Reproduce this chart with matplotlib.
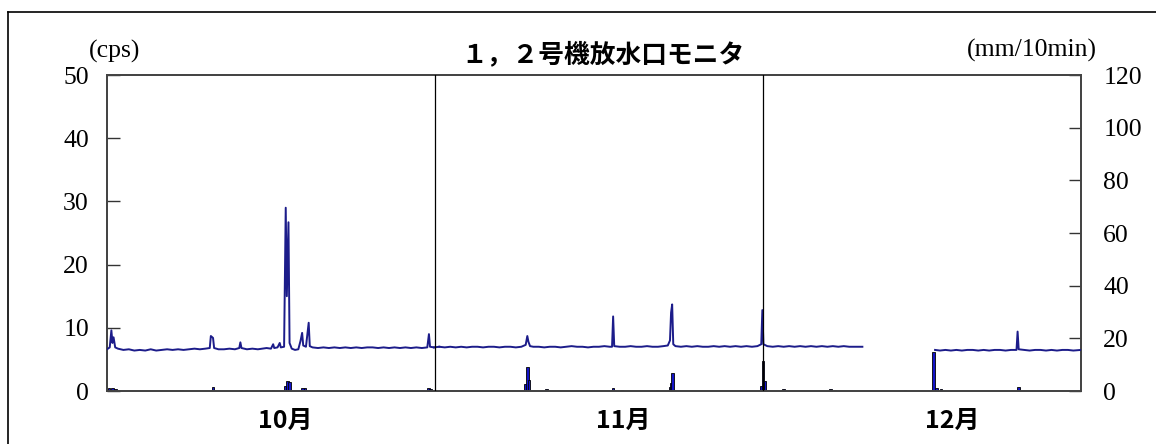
import matplotlib
matplotlib.use("Agg")
import matplotlib.pyplot as plt
import matplotlib.transforms as mtransforms
from matplotlib.lines import Line2D
import numpy as np

# ---------------- data ----------------
title = "１，２号機放水口モニタ"
month_labels = ["10月", "11月", "12月"]
month_label_pos = [16.3, 47.2, 77.3]     # day index of label centre
month_bounds = [30.0, 60.0]              # month separator lines (day index)
x_end = 89.1

oct_days = [0.0, 0.25, 0.4, 0.5, 0.6, 0.75, 1.0, 1.5, 2.0, 2.5, 3.0, 3.5, 4.0, 4.5, 5.0, 5.5,
            6.0, 6.5, 7.0, 7.5, 8.0, 8.5, 9.0, 9.4, 9.5, 9.7, 9.8, 10.2, 10.7, 11.2, 11.7, 12.1,
            12.2, 12.3, 12.8, 13.3, 13.8, 14.2, 14.6, 15.0, 15.2, 15.3, 15.6, 15.8, 15.9, 16.2,
            16.35, 16.45, 16.6, 16.7, 16.9, 17.2, 17.5, 17.7, 17.85, 17.95, 18.2, 18.45, 18.55,
            18.8, 19.3, 19.8, 20.3, 20.8, 21.3, 21.8, 22.3, 22.8, 23.3, 23.8, 24.3, 24.8, 25.3,
            25.8, 26.3, 26.8, 27.3, 27.8, 28.3, 28.8, 29.3, 29.45, 29.55, 29.9]
oct_cps = [6.6, 6.9, 9.6, 7.6, 8.5, 6.9, 6.7, 6.5, 6.6, 6.4, 6.5, 6.4, 6.6, 6.4, 6.5, 6.6,
           6.5, 6.6, 6.5, 6.6, 6.7, 6.6, 6.7, 6.8, 8.7, 8.4, 6.8, 6.6, 6.6, 6.7, 6.6, 6.8,
           7.7, 6.8, 6.6, 6.7, 6.6, 6.7, 6.8, 6.7, 7.4, 6.8, 6.9, 7.6, 6.9, 7.0,
           29.0, 15.0, 26.7, 7.6, 6.7, 6.5, 6.6, 7.9, 9.2, 7.2, 7.0, 10.8, 7.1,
           6.9, 6.8, 6.9, 6.8, 6.9, 6.8, 6.9, 6.8, 6.9, 6.8, 6.9, 6.9, 6.8, 6.9,
           6.8, 6.9, 6.8, 6.9, 6.8, 6.9, 6.8, 6.9, 9.0, 7.0, 6.9]

nov_days = [30.4, 30.9, 31.4, 31.9, 32.4, 32.9, 33.4, 33.9, 34.4, 34.9, 35.4, 35.9, 36.4, 36.9,
            37.4, 37.9, 38.3, 38.45, 38.55, 38.7, 39.0, 39.5, 40.0, 40.5, 41.0, 41.5, 42.0, 42.5,
            43.0, 43.5, 44.0, 44.5, 45.0, 45.5, 46.0, 46.2, 46.3, 46.4, 46.9, 47.4, 47.9, 48.4,
            48.9, 49.4, 49.9, 50.4, 50.9, 51.3, 51.5, 51.6, 51.7, 51.8, 52.0, 52.5, 53.0, 53.5,
            54.0, 54.5, 55.0, 55.5, 56.0, 56.5, 57.0, 57.5, 58.0, 58.5, 59.0, 59.5, 59.85, 59.95,
            60.05, 60.4, 60.9, 61.4, 61.9, 62.4, 62.9, 63.4, 63.9, 64.4, 64.9, 65.4, 65.9, 66.4,
            66.9, 67.4, 67.9, 68.4, 69.1]
nov_cps = [7.0, 6.9, 7.0, 6.9, 7.0, 6.9, 7.0, 7.0, 6.9, 7.0, 7.0, 6.9, 7.0, 7.0,
           6.9, 7.0, 7.3, 8.7, 7.8, 7.1, 7.0, 7.0, 6.9, 7.0, 7.0, 6.9, 7.0, 7.1,
           7.0, 7.0, 6.9, 7.0, 7.0, 7.1, 7.0, 7.0, 11.8, 7.1, 7.0, 7.0, 7.1, 7.0,
           7.0, 7.1, 7.0, 7.0, 7.1, 7.2, 8.0, 12.4, 13.7, 7.4, 7.1, 7.0, 7.1, 7.0,
           7.1, 7.0, 7.0, 7.1, 7.0, 7.1, 7.0, 7.1, 7.0, 7.1, 7.0, 7.1, 7.4, 12.8,
           7.4, 7.1, 7.0, 7.1, 7.0, 7.1, 7.0, 7.1, 7.0, 7.1, 7.0, 7.1, 7.0, 7.1,
           7.0, 7.1, 7.0, 7.0, 7.0]

dec_days = [75.75, 76.2, 76.7, 77.2, 77.7, 78.2, 78.7, 79.2, 79.7, 80.2, 80.7, 81.2, 81.7, 82.2,
            82.7, 83.2, 83.3, 83.4, 83.9, 84.4, 84.9, 85.4, 85.9, 86.4, 86.9, 87.4, 87.9, 88.4, 89.1]
dec_cps = [6.5, 6.4, 6.5, 6.4, 6.5, 6.4, 6.5, 6.5, 6.4, 6.5, 6.4, 6.5, 6.5, 6.4,
           6.5, 6.5, 9.4, 6.6, 6.5, 6.4, 6.5, 6.5, 6.4, 6.5, 6.4, 6.5, 6.5, 6.4, 6.5]

rain_days = [0.2, 0.5, 0.8, 6.8, 9.7, 12.2, 12.7, 15.2, 16.3, 16.5, 16.7, 17.9, 18.1, 19.3,
             23.8, 24.2, 24.6, 25.0, 29.4, 29.6, 36.6, 38.3, 38.45, 38.6, 40.2, 46.3, 47.1,
             50.3, 51.5, 51.6, 51.75, 59.9, 60.0, 60.2, 61.9, 66.2, 66.6, 73.0, 75.6, 75.9,
             76.3, 83.4]
rain_mm = [1.0, 1.2, 0.8, 0.4, 1.5, 0.5, 0.4, 0.5, 2.0, 3.9, 3.5, 1.2, 1.0, 0.4,
           0.5, 0.5, 0.5, 0.5, 1.2, 0.8, 0.5, 2.5, 9.2, 4.0, 0.6, 1.3, 0.4,
           0.4, 1.5, 3.0, 7.0, 2.0, 11.4, 3.9, 0.6, 0.6, 0.5, 0.4, 15.0, 1.0,
           0.6, 1.5]

left_ticks = [0, 10, 20, 30, 40, 50]
right_ticks = [0, 20, 40, 60, 80, 100, 120]

# ---------------- figure ----------------
W, H = 1156, 444
fig = plt.figure(figsize=(W / 100, H / 100), dpi=100)
fig.patch.set_facecolor("white")

# outer border (top + left)
fig.add_artist(Line2D([8 / W, 8 / W], [0, 1 - 12 / H], transform=fig.transFigure, color="black", lw=1.2))
fig.add_artist(Line2D([8 / W, 1.0], [1 - 12 / H, 1 - 12 / H], transform=fig.transFigure, color="black", lw=1.2))

L, R, T, B = 107, 1081, 75, 391
ax = fig.add_axes([L / W, 1 - B / H, (R - L) / W, (B - T) / H])
ax2 = ax.twinx()

serif = ["Liberation Serif", "DejaVu Serif"]
cjk = ["Noto Sans CJK JP", "DejaVu Sans"]
navy = "#1c1c8a"

# rain bars on the right axis
ax2.bar(rain_days, rain_mm, width=0.24, color="#1414c8", edgecolor="black", linewidth=0.6, zorder=2)
ax2.set_ylim(0, 120)

# cps line on the left axis
ax.set_zorder(ax2.get_zorder() + 1)
ax.patch.set_visible(False)
for d, v in [(oct_days, oct_cps), (nov_days, nov_cps), (dec_days, dec_cps)]:
    ax.plot(d, v, color=navy, lw=1.4, zorder=3)
ax.plot([oct_days[-1], nov_days[0]], [oct_cps[-1], nov_cps[0]], color=navy, lw=1.4, zorder=3)

ax.set_xlim(0, x_end)
ax.set_ylim(0, 50)

for mb in month_bounds:
    ax.axvline(mb, color="black", lw=0.9, zorder=4)

# ticks
ax.set_yticks(left_ticks)
ax.set_yticklabels([str(t) for t in left_ticks], family=serif, fontsize=18.5)
ax.tick_params(axis="y", direction="in", length=9, width=1.0, pad=13, colors="#333333", labelcolor="black")
ax2.set_yticks(right_ticks)
ax2.set_yticklabels([str(t) for t in right_ticks], family=serif, fontsize=18.5)
ax2.tick_params(axis="y", direction="in", length=9, width=1.0, pad=16, colors="#333333", labelcolor="black")
ax.set_xticks([])
ax2.set_xticks([])

for a in (ax, ax2):
    for s in a.spines.values():
        s.set_color("#444444")
        s.set_linewidth(1.3)

# month labels
trans = mtransforms.blended_transform_factory(ax.transData, fig.transFigure)
for lab, pos in zip(month_labels, month_label_pos):
    ax.text(pos, 1 - 421 / H, lab, transform=trans, ha="center", va="center",
            family=cjk, fontsize=18, fontweight="bold")

# title and unit labels
fig.text(603 / W, 1 - 55 / H, title, ha="center", va="center", family=cjk, fontsize=18.5, fontweight="bold")
fig.text(115 / W, 1 - 51 / H, "(cps)", ha="center", va="center", family=serif, fontsize=18.5)
fig.text(1032 / W, 1 - 50 / H, "(mm/10min)", ha="center", va="center", family=serif, fontsize=18.5)

fig.savefig("out.png", dpi=100, facecolor="white")
